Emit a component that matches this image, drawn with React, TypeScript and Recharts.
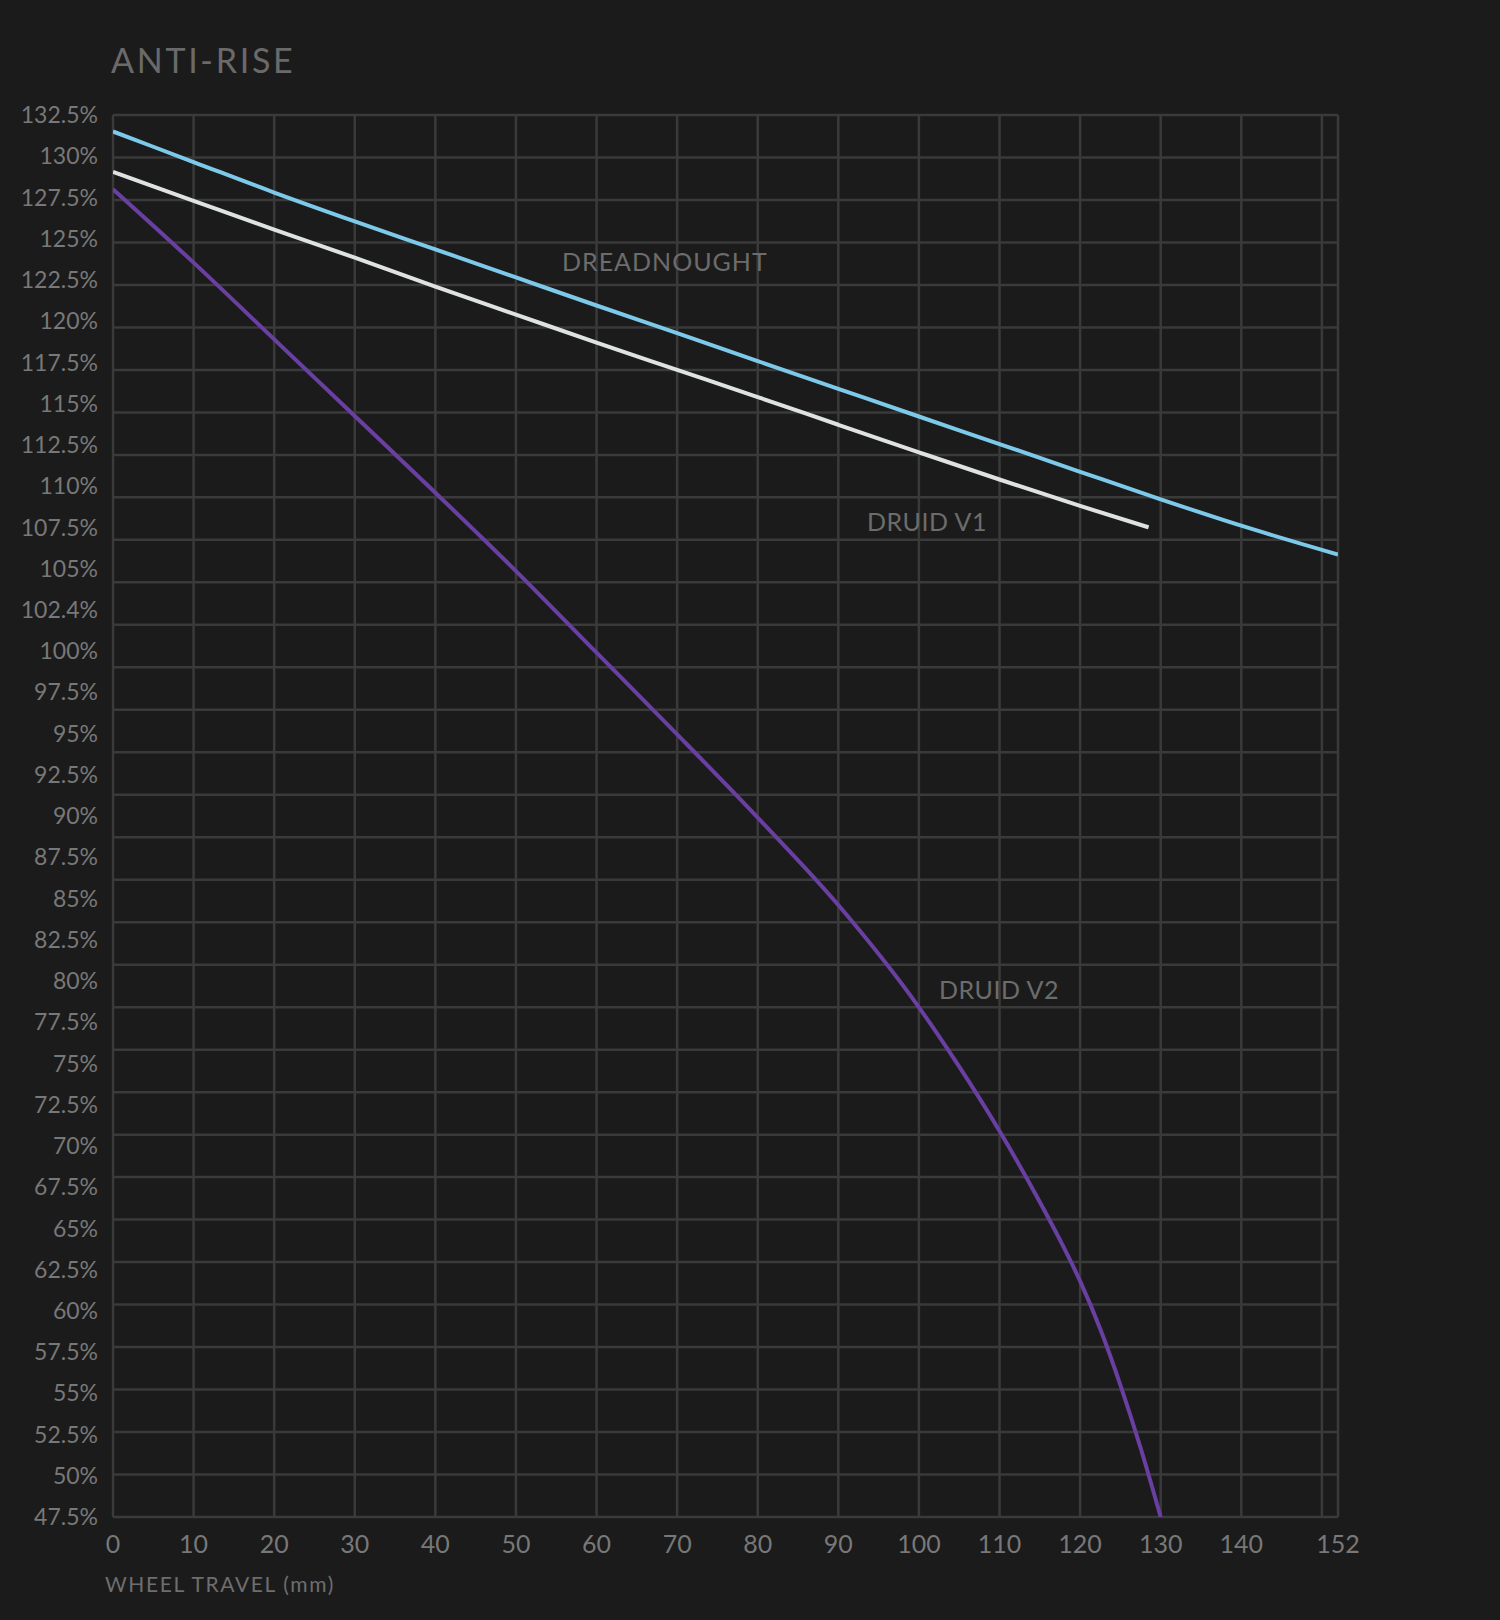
import React from "react"
import { LineChart, Line, XAxis, YAxis, CartesianGrid } from "recharts"

const travelTicks: number[] = [0, 10, 20, 30, 40, 50, 60, 70, 80, 90, 100, 110, 120, 130, 140, 152]
const travelGrid: number[] = [0, 10, 20, 30, 40, 50, 60, 70, 80, 90, 100, 110, 120, 130, 140, 150, 152]

const riseTicks: number[] = [
  132.5, 130, 127.5, 125, 122.5, 120, 117.5, 115, 112.5, 110, 107.5, 105, 102.5, 100, 97.5, 95, 92.5, 90,
  87.5, 85, 82.5, 80, 77.5, 75, 72.5, 70, 67.5, 65, 62.5, 60, 57.5, 55, 52.5, 50, 47.5,
]
const riseTickLabels: string[] = [
  "132.5%", "130%", "127.5%", "125%", "122.5%", "120%", "117.5%", "115%", "112.5%", "110%", "107.5%",
  "105%", "102.4%", "100%", "97.5%", "95%", "92.5%", "90%", "87.5%", "85%", "82.5%", "80%", "77.5%",
  "75%", "72.5%", "70%", "67.5%", "65%", "62.5%", "60%", "57.5%", "55%", "52.5%", "50%", "47.5%",
]

const dreadnoughtTravel: number[] = [0, 10, 20, 30, 40, 50, 60, 70, 80, 90, 100, 110, 120, 130, 140, 152]
const dreadnoughtRise: number[] = [
  131.5, 129.65, 127.8, 126.05, 124.35, 122.65, 120.95, 119.27, 117.58, 115.9, 114.22, 112.55, 110.87, 109.2,
  107.6, 105.85,
]

const druidV1Travel: number[] = [0, 10, 20, 30, 40, 50, 60, 70, 80, 90, 100, 110, 120, 128.5]
const druidV1Rise: number[] = [
  129.05, 127.3, 125.55, 123.85, 122.1, 120.4, 118.7, 117.05, 115.4, 113.72, 112.05, 110.4, 108.8, 107.5,
]

const druidV2Travel: number[] = [
  0, 10, 20, 30, 40, 50, 60, 70, 80, 90, 100, 105, 110, 115, 117.5, 120, 122.5, 125, 127.5, 130,
]
const druidV2Rise: number[] = [
  128.0, 123.55, 118.9, 114.25, 109.6, 104.85, 99.9, 94.95, 89.9, 84.6, 78.4, 74.8, 70.9, 66.6, 64.3, 61.8, 58.9,
  55.5, 51.7, 47.5,
]

// the source image draws 34 evenly spaced rows under 35 labels
const gridRows = 34
const riseGrid: number[] = Array.from({ length: gridRows }, (_, i) => 132.5 - (i * 85) / (gridRows - 1))

const toPoints = (xs: number[], ys: number[]) => xs.map((x, i) => ({ x, y: ys[i] }))

const BG = "#1b1b1b"
const GRID = "#3a3a3a"
const TEXT = "#787878"
const FONT = "Lato, 'Open Sans', sans-serif"

export default function App() {
  const dreadnought = toPoints(dreadnoughtTravel, dreadnoughtRise)
  const druidV1 = toPoints(druidV1Travel, druidV1Rise)
  const druidV2 = toPoints(druidV2Travel, druidV2Rise)

  return (
    <div style={{ position: "absolute", left: 0, top: 0, width: 1500, height: 1620, background: BG, fontFamily: FONT }}>
      <LineChart width={1500} height={1620} margin={{ top: 115, right: 162, bottom: 0, left: 0 }}>
        <CartesianGrid
          stroke={GRID}
          strokeWidth={2.5}
          horizontalValues={riseGrid}
          verticalValues={travelGrid}
        />
        <XAxis
          type="number"
          dataKey="x"
          domain={[0, 152]}
          ticks={travelTicks}
          interval={0}
          allowDataOverflow
          axisLine={false}
          tickLine={false}
          tickMargin={12}
          height={103}
          tick={{ fill: TEXT, fontSize: 25, fontFamily: FONT }}
        />
        <YAxis
          type="number"
          dataKey="y"
          domain={[47.5, 132.5]}
          ticks={riseTicks}
          interval={0}
          allowDataOverflow
          axisLine={false}
          tickLine={false}
          tickMargin={9}
          width={113}
          tick={{ fill: TEXT, fontSize: 23, fontFamily: FONT }}
          tickFormatter={(v: number) => riseTickLabels[riseTicks.indexOf(v)] ?? `${v}%`}
        />
        <Line
          data={druidV2}
          dataKey="y"
          type="monotone"
          stroke="#6a3fa2"
          strokeWidth={4}
          dot={false}
          activeDot={false}
          isAnimationActive={false}
        />
        <Line
          data={druidV1}
          dataKey="y"
          type="monotone"
          stroke="#dfe3e0"
          strokeWidth={4}
          dot={false}
          activeDot={false}
          isAnimationActive={false}
        />
        <Line
          data={dreadnought}
          dataKey="y"
          type="monotone"
          stroke="#7cc9ea"
          strokeWidth={4}
          dot={false}
          activeDot={false}
          isAnimationActive={false}
        />
      </LineChart>
      <svg
        width={1500}
        height={1620}
        style={{ position: "absolute", left: 0, top: 0, pointerEvents: "none" }}
      >
        <text x={111} y={73} fill="#6a6a6a" fontSize={34} letterSpacing={2.7} fontFamily={FONT}>
          ANTI-RISE
        </text>
        <text x={562} y={271} fill="#6c6c6c" fontSize={25} letterSpacing={1} fontFamily={FONT}>
          DREADNOUGHT
        </text>
        <text x={867} y={531} fill="#6c6c6c" fontSize={25} letterSpacing={0.5} fontFamily={FONT}>
          DRUID V1
        </text>
        <text x={939} y={999} fill="#6c6c6c" fontSize={25} letterSpacing={0.5} fontFamily={FONT}>
          DRUID V2
        </text>
        <text x={105} y={1592} fill="#6e6e6e" fontSize={21} letterSpacing={1.6} fontFamily={FONT}>
          WHEEL TRAVEL (mm)
        </text>
      </svg>
    </div>
  )
}
